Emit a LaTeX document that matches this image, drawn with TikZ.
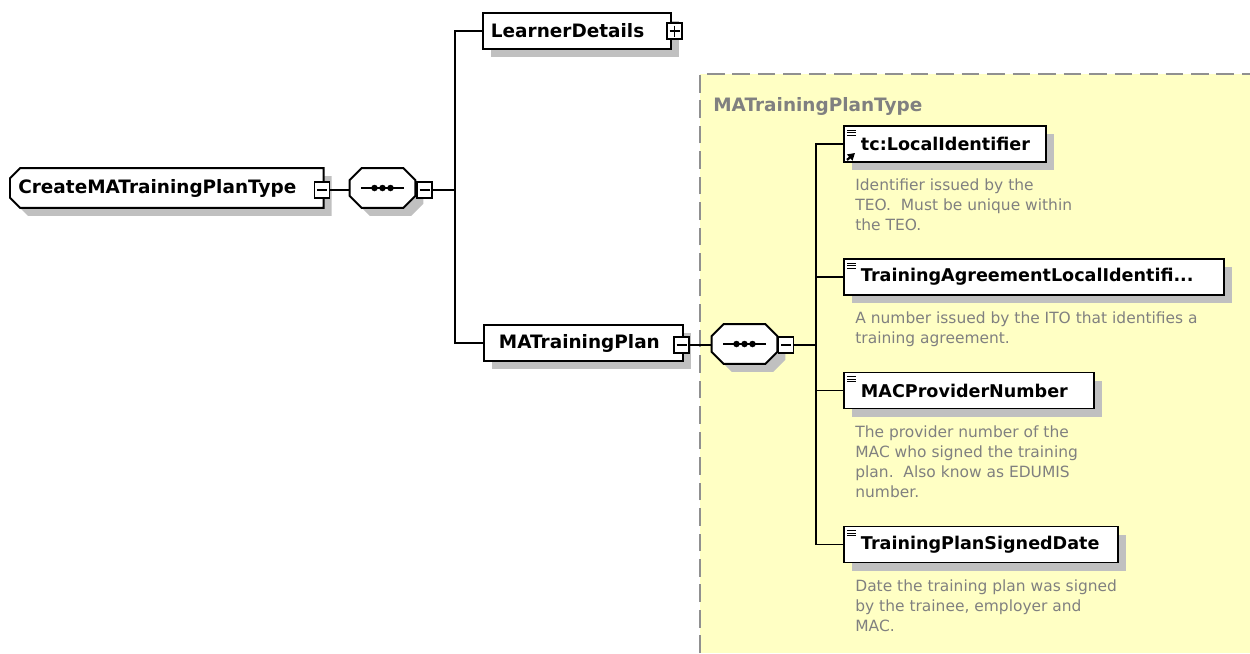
\documentclass[tikz,border=0pt]{standalone}
\usepackage{fontspec}
\setmainfont{DejaVu Sans}
\usetikzlibrary{positioning,arrows.meta,shadows}
\pgfdeclarelayer{bg}
\pgfsetlayers{bg,main}
\definecolor{shadowgray}{HTML}{C0C0C0}
\definecolor{noteyellow}{HTML}{FFFFC4}
\definecolor{notegray}{HTML}{808080}
\definecolor{dashgray}{HTML}{909090}
\newcommand{\boxfont}{\fontsize{10}{12}\selectfont\bfseries}
\newcommand{\bigboxfont}{\fontsize{10.5}{12}\selectfont\bfseries}
\newcommand{\notefont}{\fontsize{8.8}{11.34}\selectfont}

\begin{document}
\begin{tikzpicture}[x=0.02cm,y=-0.02cm,
  shadowed/.style={drop shadow={shadow xshift=0.16cm,shadow yshift=-0.16cm,fill=shadowgray,opacity=1}},
  outline/.style={draw,line width=1.1pt,fill=white,shadowed},
  typetext/.style={anchor=west,minimum height=0.78cm,inner xsep=0.16cm,text width=#1,align=left,font=\bigboxfont},
  seqbox/.style={minimum width=1.3cm,minimum height=0.78cm,inner sep=0pt,
    path picture={
      \draw[line width=1.2pt] ([xshift=0.22cm]path picture bounding box.west) -- ([xshift=-0.22cm]path picture bounding box.east);
      \foreach \dx in {-0.16,0,0.16}
        \fill ([xshift=\dx cm]path picture bounding box.center) circle (0.065cm);
    }},
  elembox/.style={draw,line width=1.1pt,fill=white,shadowed,anchor=west,minimum height=0.72cm,
    inner xsep=0.34cm,text width=#1,align=left,font=\boxfont},
  leafbox/.style={elembox=#1,
    path picture={
      \foreach \dy in {0.08,0.13,0.18}
        \draw[line width=0.5pt] ([xshift=0.07cm,yshift=-\dy cm]path picture bounding box.north west) -- ++(0.18cm,0);
    }},
  minusbox/.style={draw,line width=0.6pt,fill=white,minimum width=0.3cm,minimum height=0.32cm,inner sep=0pt,
    path picture={\draw[line width=0.6pt] ([xshift=0.05cm]path picture bounding box.west) -- ([xshift=-0.05cm]path picture bounding box.east);}},
  plusbox/.style={minusbox,
    path picture={\draw[line width=0.6pt] ([xshift=0.05cm]path picture bounding box.west) -- ([xshift=-0.05cm]path picture bounding box.east)
      ([yshift=-0.05cm]path picture bounding box.north) -- ([yshift=0.05cm]path picture bounding box.south);}},
  note/.style={anchor=north west,inner sep=0pt,align=left,font=\notefont,text=notegray},
  wire/.style={line width=0.9pt}
]
\useasboundingbox (0,0) rectangle (1250,653);

\node[anchor=west,inner sep=0pt,font=\bigboxfont,text=notegray] (typetitle) at (713,106) {MATrainingPlanType};

\node[typetext=5.94cm] (root) at (10,188) {CreateMATrainingPlanType};
\node[minusbox] (rootminus) at (322,190) {};
\node[seqbox] (seq1) at (382.5,188) {};
\node[minusbox] (seq1minus) at (424.5,190) {};

\node[elembox=3.44cm,inner xsep=0.16cm,font=\bigboxfont] (learner) at (482,31) {LearnerDetails};
\node[plusbox] (learnerplus) at (674.5,31) {};
\node[elembox=3.38cm,inner xsep=0.3cm,font=\bigboxfont] (plan) at (483,343) {MATrainingPlan};
\node[minusbox] (planminus) at (681.5,345) {};
\node[seqbox] (seq2) at (744.5,344) {};
\node[minusbox] (seq2minus) at (786,345) {};

\node[leafbox=3.36cm] (localid) at (843,144) {tc:LocalIdentifier};
\node[leafbox=6.92cm] (agreement) at (843,277) {TrainingAgreementLocalIdentifi...};
\node[leafbox=4.32cm] (provider) at (843,390.5) {MACProviderNumber};
\node[leafbox=4.8cm] (signed) at (843,544.5) {TrainingPlanSignedDate};
\draw[line width=1.3pt,-{Triangle[length=4pt,width=4.5pt]}] ([shift={(0.08cm,0.06cm)}]localid.south west) -- ++(0.16cm,0.14cm);

\node[note] (localidnote) at (855,178.5) {Identifier issued by the\\TEO.\ \ Must be unique within\\the TEO.};
\node[note] (agreementnote) at (855,311.5) {A number issued by the ITO that identifies a\\training agreement.};
\node[note] (providernote) at (855,425.5) {The provider number of the\\MAC who signed the training\\plan.\ \ Also know as EDUMIS\\number.};
\node[note] (signednote) at (855,579.5) {Date the training plan was signed\\by the trainee, employer and\\MAC.};

\begin{pgfonlayer}{bg}
\fill[noteyellow] (700,74) rectangle (1250,653);
\draw[dashgray,line width=0.8pt,dash pattern=on 10pt off 4.5pt] (700,653) -- (700,74) -- (1250,74);
\draw[outline] ([xshift=0.2cm]root.north west) -- (root.north east) -- (root.south east) -- ([xshift=0.2cm]root.south west)
  -- ([yshift=0.2cm]root.south west) -- ([yshift=-0.2cm]root.north west) -- cycle;
\foreach \s in {seq1,seq2}
  \draw[outline] ([xshift=0.24cm]\s.north west) -- ([xshift=-0.24cm]\s.north east) -- ([yshift=-0.24cm]\s.north east)
    -- ([yshift=0.24cm]\s.south east) -- ([xshift=-0.24cm]\s.south east) -- ([xshift=0.24cm]\s.south west)
    -- ([yshift=0.24cm]\s.south west) -- ([yshift=-0.24cm]\s.north west) -- cycle;
\end{pgfonlayer}

\coordinate (bus1) at (455,190);
\coordinate (bus2) at (816,345);
\draw[wire] (rootminus.east) -- (rootminus.east -| seq1.west);
\draw[wire] (seq1minus.east) -- (bus1);
\draw[wire] (bus1) |- (learner.west);
\draw[wire] (bus1) |- (plan.west);
\draw[wire] (planminus.east) -- (planminus.east -| seq2.west);
\draw[wire] (seq2minus.east) -- (bus2);
\draw[wire] (bus2) |- (localid.west);
\draw[wire] (bus2) |- (agreement.west);
\draw[wire] (bus2) |- (provider.west);
\draw[wire] (bus2) |- (signed.west);
\end{tikzpicture}
\end{document}
